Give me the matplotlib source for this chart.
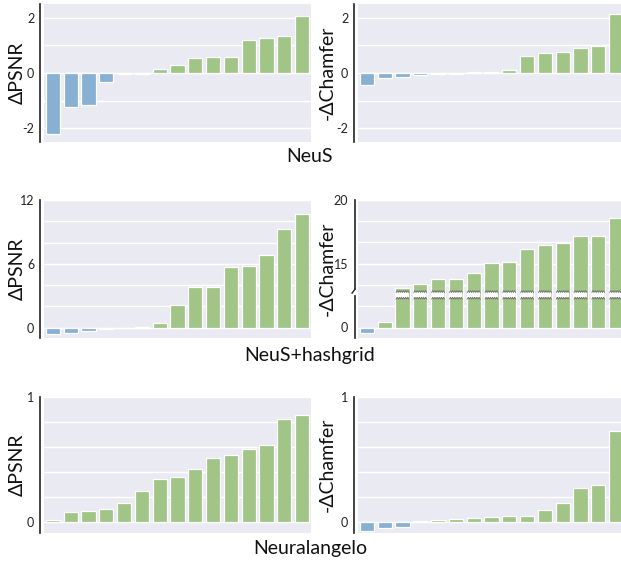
import numpy as np
import matplotlib
matplotlib.use("Agg")
import matplotlib.pyplot as plt
import matplotlib.transforms as mtransforms

# ---------------- data ----------------
neus_psnr = [-2.21, -1.24, -1.15, -0.32, -0.04, -0.02, 0.14, 0.29, 0.54, 0.58, 0.58, 1.19, 1.26, 1.35, 2.06]
neus_chamfer = [-0.44, -0.19, -0.14, -0.08, -0.05, -0.03, 0.02, 0.05, 0.10, 0.60, 0.71, 0.75, 0.90, 0.97, 2.14]
hash_psnr = [-0.57, -0.54, -0.28, -0.13, -0.03, 0.02, 0.44, 2.14, 3.78, 3.78, 5.73, 5.83, 6.83, 9.29, 10.68]
hash_chamfer = [-0.40, 0.45, 13.09, 13.43, 13.83, 13.83, 14.31, 15.08, 15.13, 16.12, 16.44, 16.62, 17.18, 17.18, 18.59]
neura_psnr = [0.016, 0.077, 0.088, 0.104, 0.147, 0.248, 0.339, 0.360, 0.419, 0.512, 0.531, 0.584, 0.613, 0.824, 0.853]
neura_chamfer = [-0.075, -0.053, -0.043, 0.003, 0.010, 0.024, 0.032, 0.035, 0.048, 0.048, 0.096, 0.147, 0.272, 0.296, 0.725]

row_titles = ["NeuS", "NeuS+hashgrid", "Neuralangelo"]
left_label = "ΔPSNR"
right_label = "-ΔChamfer"

# ---------------- style ----------------
BG = "#eaeaf2"
BLUE = "#87b0d3"
GREEN = "#a1c586"
FONT = ["Lato", "DejaVu Sans"]
plt.rcParams["font.family"] = FONT

W, H = 621, 561
fig = plt.figure(figsize=(W / 100, H / 100), dpi=100)
fig.patch.set_facecolor("white")


def rect(x0, x1, y0, y1):
    return [x0 / W, 1 - y1 / H, (x1 - x0) / W, (y1 - y0) / H]


rows_y = [(4, 142), (200, 337.7), (396.7, 533.3)]
cols_x = [(44, 311), (358, 625)]

LO, HI, GAP = 2.5, 12.5, 10.0


def fwd(v):
    v = np.asarray(v, dtype=float)
    return np.where(v < LO, v, np.where(v > HI, v - GAP, LO))


def inv(y):
    y = np.asarray(y, dtype=float)
    return np.where(y < LO, y, y + GAP)


def make_ax(r, c, values, ylim, major, minor, broken=False):
    ax = fig.add_axes(rect(cols_x[c][0], cols_x[c][1], rows_y[r][0], rows_y[r][1]))
    ax.set_facecolor(BG)
    if broken:
        ax.set_yscale("function", functions=(fwd, inv))
    x = np.arange(len(values))
    vals = np.asarray(values)
    colors = [BLUE if v < 0 else GREEN for v in vals]
    bars = ax.bar(x, vals, width=0.8, color=colors, edgecolor="white", linewidth=0.9, zorder=2)
    ax.set_xlim(-0.5, len(values) - 0.5)
    ax.set_ylim(*ylim)
    ax.set_yticks(major)
    ax.set_yticklabels([f"{m:g}" for m in major])
    ax.set_yticks(minor, minor=True)
    ax.set_xticks([])
    ax.grid(True, which="both", axis="y", color="white", linewidth=1.0, zorder=0)
    ax.set_axisbelow(True)
    for s in ["top", "right", "bottom"]:
        ax.spines[s].set_visible(False)
    ax.spines["left"].set_position(("outward", 3))
    ax.spines["left"].set_color("#222222")
    ax.spines["left"].set_linewidth(1.2)
    ax.tick_params(axis="y", which="both", length=0, pad=4, labelsize=9, colors="#222222")
    return ax, bars


panels = [
    [(neus_psnr, (-2.5, 2.5), [-2, 0, 2], [-1, 1], False),
     (neus_chamfer, (-2.5, 2.5), [-2, 0, 2], [-1, 1], False)],
    [(hash_psnr, (-0.95, 12), [0, 6, 12], [2, 4, 8, 10], False),
     (hash_chamfer, (-0.8, 20), [0, 15, 20], [5 / 3, 40 / 3, 50 / 3, 55 / 3], True)],
    [(neura_psnr, (-0.093, 1.0), [0, 1], [0.2, 0.4, 0.6, 0.8], False),
     (neura_chamfer, (-0.093, 1.0), [0, 1], [0.2, 0.4, 0.6, 0.8], False)],
]

for r in range(3):
    for c in range(2):
        vals, ylim, major, minor, broken = panels[r][c]
        ax, bars = make_ax(r, c, vals, ylim, major, minor, broken)
        if broken:
            # break markers on tall bars
            lo_y, hi_y = 2.3, 12.82
            amp = 0.07
            for b in bars:
                h = b.get_height()
                if h <= HI:
                    continue
                x0 = b.get_x() + 0.04
                x1 = b.get_x() + b.get_width() - 0.04
                n = 13
                xs = np.linspace(x0, x1, n)
                zz = np.where(np.arange(n) % 2 == 0, -amp, amp)
                ylow = lo_y + zz
                yhigh = hi_y + zz
                poly_x = np.concatenate([xs, xs[::-1]])
                poly_y = np.concatenate([ylow, yhigh[::-1]])
                ax.fill(poly_x, poly_y, color="white", zorder=3, lw=0)
                ax.plot(xs, ylow, color="#6a6a6a", lw=0.6, zorder=4)
                ax.plot(xs, yhigh, color="#6a6a6a", lw=0.6, zorder=4)
            # broken spine
            ax.spines["left"].set_visible(False)
            tr = mtransforms.offset_copy(ax.get_yaxis_transform(), fig=fig, x=-3, y=0, units="dots")
            ax.plot([0, 0], [-0.8, 2.45], color="#222222", lw=1.2, transform=tr, clip_on=False)
            ax.plot([0, 0], [13.0, 20], color="#222222", lw=1.2, transform=tr, clip_on=False)
            ax.plot([0, -0.011], [13.0, 12.7], color="#222222", lw=1.0, transform=tr, clip_on=False)

    # labels
    yc = 1 - (rows_y[r][0] + rows_y[r][1]) / 2 / H
    fig.text(17 / W, yc, left_label, rotation=90, ha="center", va="center", fontsize=14, color="#111111")
    fig.text(327.5 / W, yc, right_label, rotation=90, ha="center", va="center", fontsize=14, color="#111111")

fig.text(310 / W, 1 - 162 / H, row_titles[0], ha="center", va="baseline", fontsize=14, color="#111111")
fig.text(310 / W, 1 - 360.7 / H, row_titles[1], ha="center", va="baseline", fontsize=14, color="#111111")
fig.text(310 / W, 1 - 554.3 / H, row_titles[2], ha="center", va="baseline", fontsize=14, color="#111111")

fig.savefig("out.png", dpi=100, facecolor="white")
